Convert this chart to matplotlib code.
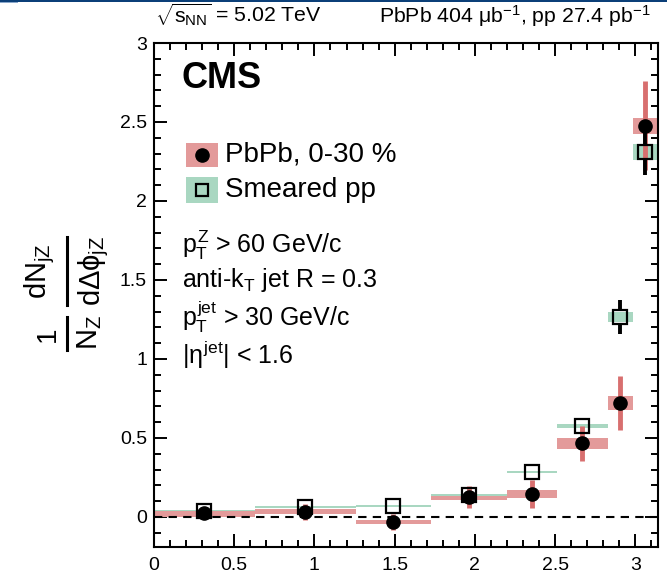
import numpy as np
import matplotlib
matplotlib.use("Agg")
import matplotlib.pyplot as plt
from matplotlib.patches import Rectangle
from matplotlib.lines import Line2D
from matplotlib.ticker import MultipleLocator

plt.rcParams['font.family'] = ['Liberation Sans', 'DejaVu Sans']
plt.rcParams['mathtext.fontset'] = 'custom'
plt.rcParams['mathtext.rm'] = 'Liberation Sans'
plt.rcParams['mathtext.it'] = 'Liberation Sans'
plt.rcParams['mathtext.bf'] = 'Liberation Sans:bold'
plt.rcParams['mathtext.sf'] = 'Liberation Sans'

# ---- data ----
bin_edges = np.array([0.0, 0.2, 0.4, 0.55, 0.7, 0.8, 0.9, 0.95, 1.0]) * np.pi
pbpb_y = [0.025, 0.034, -0.03, 0.128, 0.144, 0.466, 0.723, 2.477]
pbpb_stat = [0.03, 0.05, 0.05, 0.07, 0.09, 0.11, 0.17, 0.28]
pbpb_sys = [0.022, 0.017, 0.013, 0.018, 0.024, 0.034, 0.043, 0.05]
pp_y = [0.04, 0.065, 0.07, 0.14, 0.283, 0.576, 1.268, 2.312]
pp_stat = [0.01, 0.01, 0.01, 0.015, 0.02, 0.05, 0.107, 0.15]
pp_sys = [0.005, 0.005, 0.005, 0.006, 0.006, 0.015, 0.032, 0.05]
labels = ["PbPb, 0-30 %", "Smeared pp"]
xticks = [0, 0.5, 1, 1.5, 2, 2.5, 3]
yticks = [0, 0.5, 1, 1.5, 2, 2.5, 3]

red_box = "#e39a9a"
red_line = "#d86f6f"
green_box = "#a9d7c1"

W, H = 667, 574
fig = plt.figure(figsize=(W / 100, H / 100), dpi=100)
ax = fig.add_axes([154 / W, 1 - 547 / H, 504 / W, 504 / H])
ax.set_xlim(0, np.pi)
ax.set_ylim(-0.19, 3.0)

lo = bin_edges[:-1]
hi = bin_edges[1:]
xc = 0.5 * (lo + hi)

# systematic boxes
for i in range(len(xc)):
    ax.add_patch(Rectangle((lo[i], pbpb_y[i] - pbpb_sys[i]), hi[i] - lo[i], 2 * pbpb_sys[i],
                           facecolor=red_box, edgecolor='none', zorder=2))
for i in range(len(xc)):
    ax.add_patch(Rectangle((lo[i], pp_y[i] - pp_sys[i]), hi[i] - lo[i], 2 * pp_sys[i],
                           facecolor=green_box, edgecolor='none', zorder=2.5))

ax.axhline(0, color='black', lw=1.5, ls=(0, (4, 3)), zorder=3)

# stat errors + markers
ax.errorbar(xc, pbpb_y, yerr=pbpb_stat, fmt='none', ecolor=red_line, elinewidth=3.5,
            capsize=0, zorder=4)
ax.plot(xc, pbpb_y, 'o', color='black', ms=9.5, zorder=5)

# pp stat bars drawn outside the open marker
ms_pp = 9.5
px_per_unit = ax.transData.transform((0, 1))[1] - ax.transData.transform((0, 0))[1]
half = (ms_pp / 2 * 100 / 72) / px_per_unit
ppy = np.array(pp_y)
pps = np.array(pp_stat)
m = pps > half
ax.vlines(xc[m], ppy[m] + half, ppy[m] + pps[m], color='black', lw=2.8, zorder=6)
ax.vlines(xc[m], ppy[m] - pps[m], ppy[m] - half, color='black', lw=2.8, zorder=6)
ax.plot(xc, pp_y, 's', mfc='none', mec='black', mew=1.6, ms=ms_pp, zorder=7)

ax.set_xticks(xticks)
ax.set_xticklabels([f"{t:g}" for t in xticks])
ax.set_yticks(yticks)
ax.set_yticklabels([f"{t:g}" for t in yticks])
ax.xaxis.set_minor_locator(MultipleLocator(0.1))
ax.yaxis.set_minor_locator(MultipleLocator(0.1))
ax.tick_params(which='both', direction='in', top=True, right=True, width=1.4, labelsize=14)
ax.tick_params(which='major', length=9.5)
ax.tick_params(which='minor', length=5)
ax.tick_params(axis='x', pad=7)
ax.tick_params(axis='y', pad=5)
for s in ax.spines.values():
    s.set_linewidth(1.5)

# y-axis title built as ROOT-style stacked fractions (rotated)
def fx(px):
    return px / W

def fy(py):
    return 1 - py / H

fig.text(fx(48), fy(334), '1', rotation=90, fontsize=20, ha='center', va='center')
fig.text(fx(89.5), fy(333), r'$N_{Z}$', rotation=90, fontsize=21, ha='center', va='center')
fig.text(fx(39.5), fy(271), r'$dN_{jZ}$', rotation=90, fontsize=21, ha='center', va='center')
fig.text(fx(93.5), fy(271), r'$d\Delta\phi_{jZ}$', rotation=90, fontsize=21, ha='center', va='center')
fig.add_artist(Line2D([fx(66.7), fx(66.7)], [fy(317), fy(350)], color='black', lw=2.2))
fig.add_artist(Line2D([fx(66.7), fx(66.7)], [fy(237), fy(305)], color='black', lw=2.2))

# top labels
ax.text(0.002, 1.04, r'$\sqrt{s_{NN}}$ = 5.02 TeV', transform=ax.transAxes,
        fontsize=15.3, ha='left', va='baseline')
ax.text(0.985, 1.04, r'PbPb 404 $\mu$b$^{-1}$, pp 27.4 pb$^{-1}$', transform=ax.transAxes,
        fontsize=15.3, ha='right', va='baseline')

# CMS label
ax.text(0.055, 0.929, 'CMS', transform=ax.transAxes, fontsize=26, fontweight='bold',
        ha='left', va='center')

# legend (manual)
ax.add_patch(Rectangle((0.0635, 0.7546), 0.0635, 0.0476, transform=ax.transAxes,
                       facecolor=red_box, edgecolor='none', clip_on=False))
ax.plot([0.095], [0.778], 'o', color='black', ms=9.5, transform=ax.transAxes, clip_on=False)
ax.add_patch(Rectangle((0.0635, 0.683), 0.0635, 0.052, transform=ax.transAxes,
                       facecolor=green_box, edgecolor='none', clip_on=False))
ax.plot([0.095], [0.709], 's', mfc='none', mec='black', mew=1.6, ms=8.5,
        transform=ax.transAxes, clip_on=False)
ax.text(0.141, 0.778, labels[0], transform=ax.transAxes, fontsize=20, ha='left', va='center')
ax.text(0.141, 0.709, labels[1], transform=ax.transAxes, fontsize=20, ha='left', va='center')

# selection text
sel = [r'$p_{T}^{Z}$ > 60 GeV/c', r'anti-k$_{T}$ jet R = 0.3',
       r'$p_{T}^{jet}$ > 30 GeV/c', r'|$\eta^{jet}$| < 1.6']
for t, yy in zip(sel, [0.599, 0.530, 0.456, 0.381]):
    ax.text(0.055, yy, t, transform=ax.transAxes, fontsize=18, ha='left', va='center')

# thin page bar at top
fig.add_artist(Rectangle((0, 1 - 2 / H), 1, 2 / H, transform=fig.transFigure,
                         facecolor='#0b3f78', edgecolor='none'))
fig.add_artist(Rectangle((0, 1 - 3 / H), 18 / W, 1 / H, transform=fig.transFigure,
                         facecolor='#8aa8cc', edgecolor='none'))

fig.savefig('out.png', dpi=100)
